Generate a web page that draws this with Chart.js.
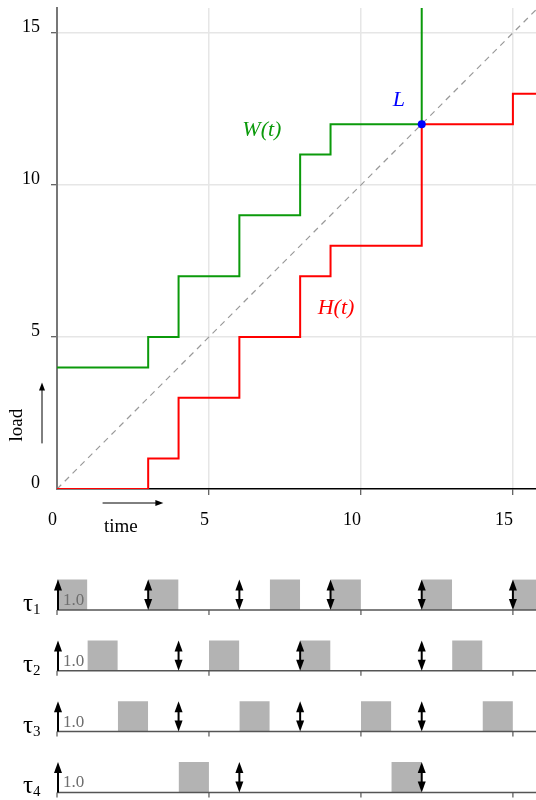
<!DOCTYPE html>
<html><head><meta charset="utf-8">
<script src="https://cdn.jsdelivr.net/npm/chart.js@4.4.0/dist/chart.umd.min.js"></script>
<style>
html,body{margin:0;padding:0;background:#fff;width:536px;height:800px;overflow:hidden}
#c1{position:absolute;left:0;top:0}
#c2{position:absolute;left:0;top:540px}
</style></head><body>
<canvas id="c1" width="536" height="540"></canvas>
<canvas id="c2" width="536" height="260"></canvas>
<script>
// ---- data ----
const xTicks = [0, 5, 10, 15];
const yTicks = [0, 5, 10, 15];
const wTimes = [0, 3, 4, 6, 8, 9, 12, 12];
const wLoad  = [4, 5, 7, 9, 11, 12, 12, 17];
const hTimes = [0, 3, 4, 6, 8, 9, 12, 15, 17];
const hLoad  = [0, 1, 3, 5, 7, 8, 12, 13, 13];
const diagT  = [0, 17];
const diagV  = [0, 17];
const pointL = [12, 12];
const taskNames = ['1', '2', '3', '4'];
const boxStarts = [[0, 3, 7, 9, 12, 15], [1, 5, 8, 13], [2, 6, 10, 14], [4, 11]];
const arrowTimes = [[3, 6, 9, 12, 15], [4, 8, 12], [4, 8, 12], [6, 12]];
const rowBase = [0, -2, -4, -6];
const execTime = 1.0;
const execLabel = '1.0';

const serif = "'Liberation Serif','DejaVu Serif',serif";
const GREEN = '#0b9a0b', RED = '#ff0000', BLUE = '#0000ff';
const pts = (xs, ys) => xs.map((x, i) => ({x: x, y: ys[i]}));

// ---- top chart ----
const topText = {
  id: 'topText',
  afterDatasetsDraw(chart) {
    const ctx = chart.ctx, xs = chart.scales.x, ys = chart.scales.y;
    const lab = (t, x, y, c) => {
      ctx.save();
      ctx.font = 'italic 22px ' + serif;
      ctx.fillStyle = c; ctx.textAlign = 'center'; ctx.textBaseline = 'middle';
      ctx.fillText(t, xs.getPixelForValue(x), ys.getPixelForValue(y));
      ctx.restore();
    };
    lab('W(t)', 6.74, 11.8, GREEN);
    lab('H(t)', 9.18, 5.95, RED);
    lab('L', 11.25, 12.8, BLUE);
    // axis captions with arrows
    const ca = chart.chartArea;
    ctx.save();
    ctx.fillStyle = '#000'; ctx.strokeStyle = '#000'; ctx.lineWidth = 1;
    ctx.font = '19px ' + serif;
    ctx.textAlign = 'center'; ctx.textBaseline = 'middle';
    ctx.save();
    ctx.translate(17, ys.getPixelForValue(2.1));
    ctx.rotate(-Math.PI / 2);
    ctx.fillText('load', 0, 0);
    ctx.restore();
    ctx.fillText('time', xs.getPixelForValue(2.1), ca.bottom + 38);
    // load arrow
    const ax = 42, y0 = ys.getPixelForValue(1.5), y1 = ys.getPixelForValue(3.5);
    ctx.beginPath(); ctx.moveTo(ax, y0); ctx.lineTo(ax, y1 + 6); ctx.stroke();
    ctx.beginPath(); ctx.moveTo(ax, y1); ctx.lineTo(ax - 3, y1 + 8); ctx.lineTo(ax + 3, y1 + 8); ctx.closePath(); ctx.fill();
    // time arrow
    const ty = ca.bottom + 14, x0 = xs.getPixelForValue(1.5), x1 = xs.getPixelForValue(3.5);
    ctx.beginPath(); ctx.moveTo(x0, ty); ctx.lineTo(x1 - 6, ty); ctx.stroke();
    ctx.beginPath(); ctx.moveTo(x1, ty); ctx.lineTo(x1 - 8, ty - 3); ctx.lineTo(x1 - 8, ty + 3); ctx.closePath(); ctx.fill();
    ctx.restore();
  }
};

const gridCol = c => (c.tick && c.tick.value === 0) ? 'rgba(0,0,0,0)' : '#e6e6e6';
const tickCol = c => (c.tick && c.tick.value === 0) ? 'rgba(0,0,0,0)' : '#333';
const noPad = s => { s.paddingTop = 0; s.paddingBottom = 0; s.paddingLeft = 0; s.paddingRight = 0; };

new Chart(document.getElementById('c1'), {
  type: 'line',
  data: {datasets: [
    {label: 'L', data: [{x: pointL[0], y: pointL[1]}], showLine: false, pointRadius: 4,
     pointBackgroundColor: BLUE, pointBorderColor: BLUE, pointBorderWidth: 0},
    {label: 'H(t)', data: pts(hTimes, hLoad), stepped: 'before', borderColor: RED, borderWidth: 2, pointRadius: 0, fill: false},
    {label: 'W(t)', data: pts(wTimes, wLoad), stepped: 'before', borderColor: GREEN, borderWidth: 2, pointRadius: 0, fill: false},
    {label: 'load = time', data: pts(diagT, diagV), borderColor: '#999', borderWidth: 1.2, borderDash: [6, 5], pointRadius: 0, fill: false}
  ]},
  options: {
    responsive: false, animation: false, devicePixelRatio: 1,
    layout: {autoPadding: false, padding: {top: 8, right: 0, left: 0, bottom: 0}},
    plugins: {legend: {display: false}, tooltip: {enabled: false}},
    scales: {
      x: {type: 'linear', min: 0, max: 15.76,
        afterBuildTicks: s => { s.ticks = xTicks.map(v => ({value: v})); },
        afterFit: s => { s.height = 51; noPad(s); },
        grid: {color: gridCol, lineWidth: 1.5, tickLength: 6, tickColor: tickCol, tickWidth: 1},
        border: {color: '#000', width: 1.5},
        ticks: {align: 'end', padding: 14, font: {family: serif, size: 18}, color: '#000'}},
      y: {type: 'linear', min: 0, max: 15.82,
        afterBuildTicks: s => { s.ticks = yTicks.map(v => ({value: v})); },
        afterFit: s => { s.width = 57; noPad(s); },
        grid: {color: gridCol, lineWidth: 1.5, tickLength: 6, tickColor: tickCol, tickWidth: 1},
        border: {color: '#777', width: 2},
        ticks: {padding: 11, labelOffset: -6, font: {family: serif, size: 18}, color: '#000'}}
    }
  },
  plugins: [topText]
});

// ---- bottom timelines ----
const botDatasets = [];
rowBase.forEach((b, r) => {
  botDatasets.push({label: 'base' + r, data: [{x: 0, y: b}, {x: 17, y: b}], borderColor: '#555', borderWidth: 1.5, pointRadius: 0, fill: false});
});
rowBase.forEach((b, r) => {
  boxStarts[r].forEach(s => {
    botDatasets.push({label: 'τ' + taskNames[r] + ' job', data: [{x: s, y: b + execTime}, {x: s + execTime, y: b + execTime}],
      borderWidth: 0, borderColor: 'rgba(0,0,0,0)', backgroundColor: '#b3b3b3', pointRadius: 0, fill: {value: b}});
  });
});

const botDraw = {
  id: 'botDraw',
  afterDatasetsDraw(chart) {
    const ctx = chart.ctx, xs = chart.scales.x, ys = chart.scales.y;
    ctx.save();
    const head = (x, y, dir) => { // dir -1 up, +1 down; y = tip
      ctx.beginPath(); ctx.moveTo(x, y); ctx.lineTo(x - 4, y - dir * 11); ctx.lineTo(x + 4, y - dir * 11); ctx.closePath(); ctx.fill();
    };
    rowBase.forEach((b, r) => {
      const py0 = ys.getPixelForValue(b), py1 = ys.getPixelForValue(b + execTime);
      // ticks
      ctx.strokeStyle = '#555'; ctx.lineWidth = 1.2;
      xTicks.forEach(v => {
        const px = xs.getPixelForValue(v);
        ctx.beginPath(); ctx.moveTo(px, py0); ctx.lineTo(px, py0 + 5); ctx.stroke();
      });
      ctx.fillStyle = '#000'; ctx.strokeStyle = '#000'; ctx.lineWidth = 2;
      // release arrow at 0
      const p0 = xs.getPixelForValue(0) + 1;
      ctx.beginPath(); ctx.moveTo(p0, py0); ctx.lineTo(p0, py1 + 8); ctx.stroke();
      head(p0, py1, -1);
      arrowTimes[r].forEach(t => {
        const px = xs.getPixelForValue(t);
        ctx.beginPath(); ctx.moveTo(px, py0 - 8); ctx.lineTo(px, py1 + 8); ctx.stroke();
        head(px, py1, -1);
        head(px, py0, 1);
      });
      // exec label
      ctx.fillStyle = '#6e6e6e'; ctx.font = '17px ' + serif; ctx.textAlign = 'left'; ctx.textBaseline = 'alphabetic';
      ctx.fillText(execLabel, p0 + 5, py0 - 5);
      // task label
      ctx.fillStyle = '#000'; ctx.font = '25px ' + serif;
      ctx.fillText('τ', 23, py0 + 1);
      const w = ctx.measureText('τ').width;
      ctx.font = '15px ' + serif;
      ctx.fillText(taskNames[r], 23 + w, py0 + 4);
    });
    ctx.restore();
  }
};

new Chart(document.getElementById('c2'), {
  type: 'line',
  data: {datasets: botDatasets},
  options: {
    responsive: false, animation: false, devicePixelRatio: 1,
    layout: {autoPadding: false, padding: {top: 0, right: 0, left: 57, bottom: 0}},
    plugins: {legend: {display: false}, tooltip: {enabled: false}},
    scales: {
      x: {type: 'linear', min: 0, max: 15.76, display: false},
      y: {type: 'linear', min: -6.25, max: 2.303, display: false}
    }
  },
  plugins: [botDraw]
});
</script>
</body></html>
